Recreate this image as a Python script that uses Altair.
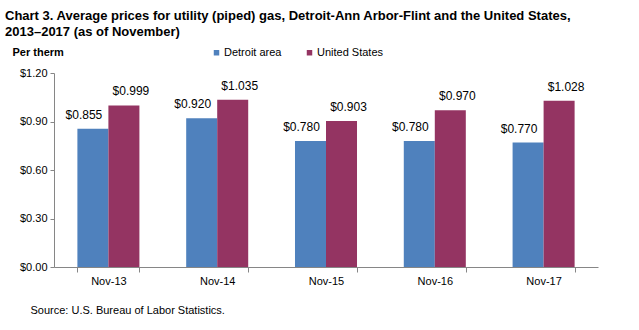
import altair as alt
import pandas as pd

categories = ["Nov-13", "Nov-14", "Nov-15", "Nov-16", "Nov-17"]
detroit = [0.855, 0.920, 0.780, 0.780, 0.770]
us = [0.999, 1.035, 0.903, 0.970, 1.028]
series = ["Detroit area", "United States"]
colors = ["#4F81BD", "#943462"]

rows = []
for c, d, u in zip(categories, detroit, us):
    rows.append({"cat": c, "series": series[0], "value": d})
    rows.append({"cat": c, "series": series[1], "value": u})
df = pd.DataFrame(rows)

FONT = "Liberation Sans"

x = alt.X("cat:N", sort=categories, scale=alt.Scale(paddingInner=0.43, paddingOuter=0.215),
          axis=alt.Axis(title="Source: U.S. Bureau of Labor Statistics.", labelAngle=0,
                        tickBand="extent", tickSize=5, labelPadding=3,
                        labelFontSize=11, labelFont=FONT, labelColor="#000000",
                        domainColor="#868686", tickColor="#868686",
                        titleFont=FONT, titleFontSize=11, titleFontWeight="normal",
                        titleColor="#000000", titleX=-24, titleY=43, titleAlign="left",
                        titleAnchor="start", titleBaseline="middle"))
y = alt.Y("value:Q", scale=alt.Scale(domain=[0, 1.2]),
          axis=alt.Axis(values=[0, 0.3, 0.6, 0.9, 1.2], format="$.2f", grid=False,
                        tickSize=4, labelFontSize=11, labelFont=FONT, labelColor="#000000",
                        domainColor="#868686", tickColor="#868686", labelPadding=3,
                        title="Per therm", titleAngle=0, titleX=-42, titleY=-21,
                        titleAlign="left", titleBaseline="middle", titleFont=FONT,
                        titleFontSize=11, titleFontWeight="bold", titleColor="#000000"))

base = alt.Chart(df)

bars = base.mark_bar().encode(
    x=x, y=y,
    xOffset=alt.XOffset("series:N", sort=series, scale=alt.Scale(paddingInner=0, paddingOuter=0)),
    color=alt.Color("series:N", sort=series, scale=alt.Scale(domain=series, range=colors),
                    legend=alt.Legend(title=None, orient="none", legendX=157, legendY=-26,
                                      direction="horizontal", symbolType="square",
                                      symbolSize=30, labelFont=FONT, labelFontSize=11,
                                      labelColor="#000000", labelOffset=2,
                                      columnPadding=22, symbolStrokeWidth=0)),
)

def labels(s, dx):
    return base.transform_filter(alt.datum.series == s).mark_text(
        baseline="bottom", dy=-7, dx=dx, fontSize=12, font=FONT, color="#000000"
    ).encode(
        x=alt.X("cat:N", sort=categories),
        y=alt.Y("value:Q"),
        xOffset=alt.XOffset("series:N", sort=series, scale=alt.Scale(domain=series)),
        text=alt.Text("value:Q", format="$.3f"),
    )

chart = alt.layer(bars, labels(series[0], -9), labels(series[1], 7)).properties(
    width=544, height=194,
    autosize=alt.AutoSizeParams(type="none"),
    padding={"left": 54, "top": 73, "right": 41, "bottom": 63},
    title=alt.TitleParams(
        text=["Chart 3. Average prices for utility (piped) gas, Detroit-Ann Arbor-Flint and the United States,",
              "2013\u20132017  (as of November)"],
        anchor="start", frame="group", dx=-49, offset=7, fontSize=13, font=FONT,
        fontWeight="bold", color="#000000", lineHeight=16,
    ),
).configure_view(stroke=None)

chart.save("out.html", embed_options={"renderer": "svg", "actions": False})
